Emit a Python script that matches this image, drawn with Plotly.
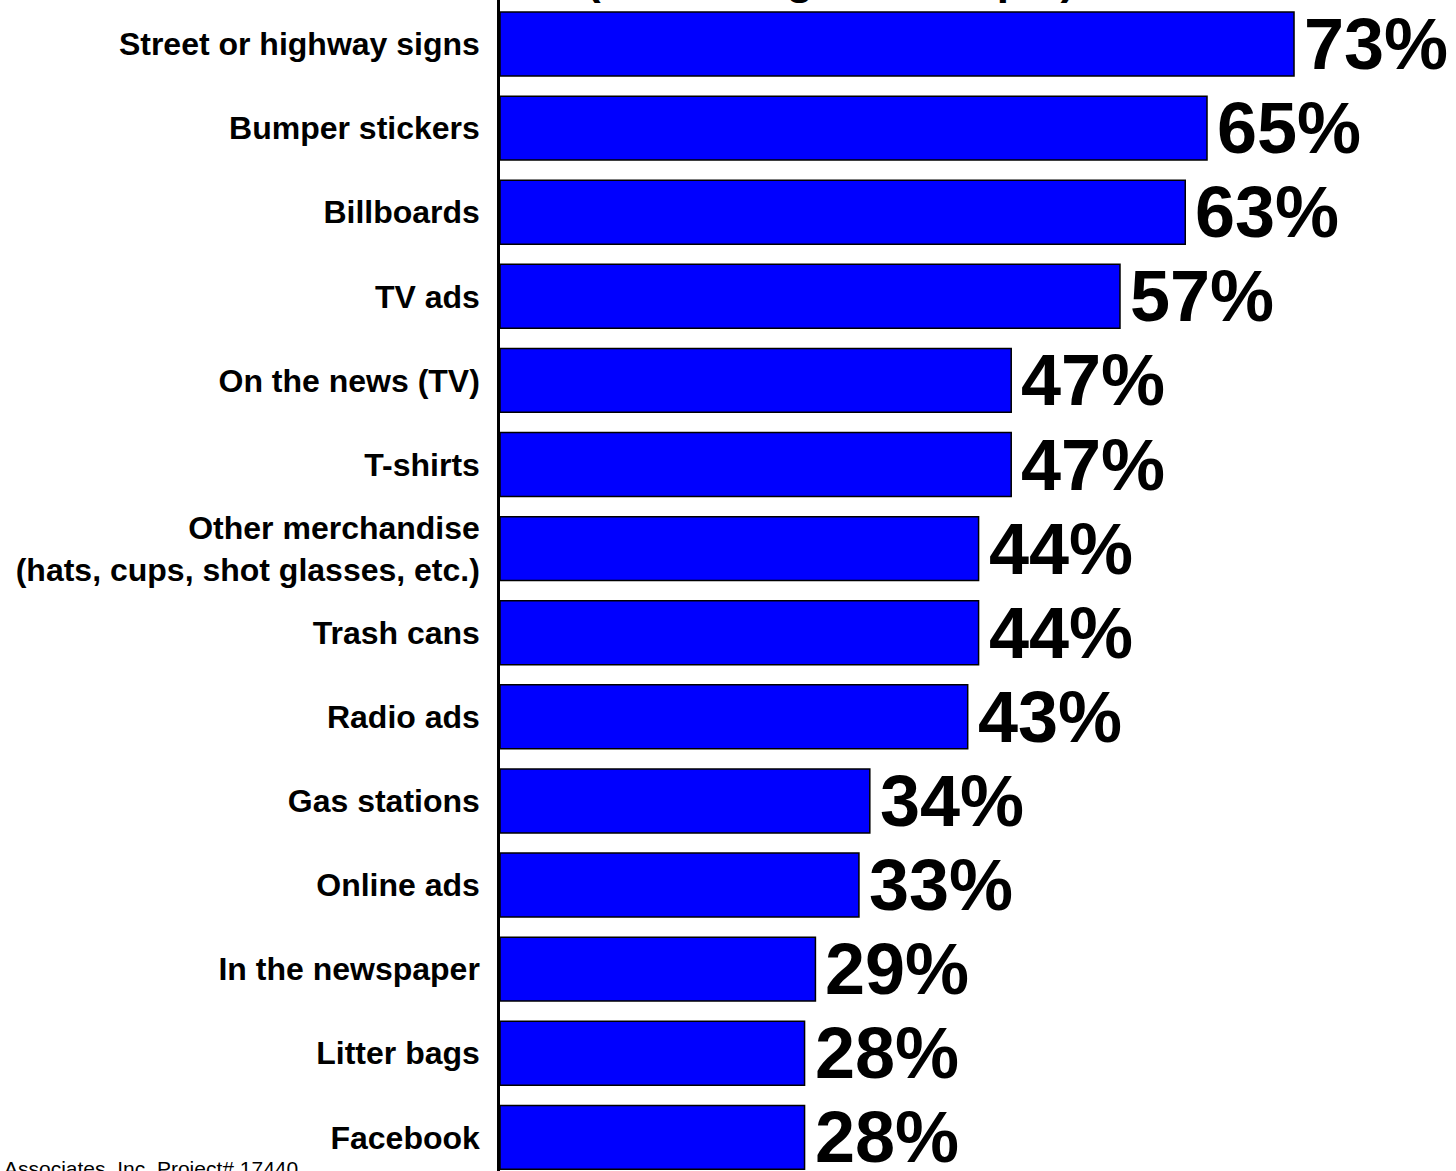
import plotly.graph_objects as go

categories = [
    "Street or highway signs",
    "Bumper stickers",
    "Billboards",
    "TV ads",
    "On the news (TV)",
    "T-shirts",
    "Other merchandise<br>(hats, cups, shot glasses, etc.)",
    "Trash cans",
    "Radio ads",
    "Gas stations",
    "Online ads",
    "In the newspaper",
    "Litter bags",
    "Facebook",
]
values = [73, 65, 63, 57, 47, 47, 44, 44, 43, 34, 33, 29, 28, 28]
value_labels = [f"{v}%" for v in values]

title_text = "(Percentage of Sample)"
footer_text = "Associates, Inc. Project# 17440"

FONT = "Arial"
W, H = 1456, 1171
L = 500
px_per_unit = 10.877
x_max = (W - L) / px_per_unit

fig = go.Figure()
fig.add_trace(go.Bar(
    x=values,
    y=categories,
    orientation="h",
    marker=dict(color="#0000FF", line=dict(color="black", width=1.5)),
    hoverinfo="skip",
))

for v, c, t in zip(values, categories, value_labels):
    fig.add_annotation(
        x=v, y=c, xref="x", yref="y",
        text=t, showarrow=False,
        xanchor="left", yanchor="middle", xshift=8,
        font=dict(family=FONT, size=72, color="black", weight="bold"),
    )

fig.add_annotation(
    x=(830 - L) / (W - L), y=1, xref="paper", yref="paper",
    text=title_text, showarrow=False,
    xanchor="center", yanchor="bottom", yshift=-5,
    font=dict(family=FONT, size=44, color="black", weight="bold"),
)

fig.add_annotation(
    x=(2 - L) / (W - L), y=0, xref="paper", yref="paper",
    text=footer_text, showarrow=False,
    xanchor="left", yanchor="top", yshift=16,
    font=dict(family=FONT, size=21, color="black"),
)

fig.update_layout(
    width=W, height=H,
    margin=dict(l=L, r=0, t=0, b=0),
    plot_bgcolor="white", paper_bgcolor="white",
    bargap=0.24,
    showlegend=False,
)
fig.update_xaxes(
    range=[0, x_max], visible=False, showgrid=False, zeroline=False,
)
fig.update_yaxes(
    type="category",
    range=[13.40, -0.523],
    showline=True, linecolor="black", linewidth=2.5,
    showgrid=False, zeroline=False, ticks="",
    ticklabelstandoff=11,
    tickfont=dict(family=FONT, size=32, color="black", weight="bold"),
)

fig.write_html(
    "out.html",
    config={"displayModeBar": False},
    post_script="document.body.style.margin='0';document.body.style.overflow='hidden';",
)
